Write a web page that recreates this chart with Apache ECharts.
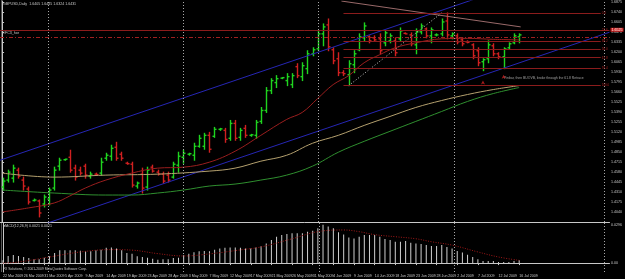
<!DOCTYPE html>
<html lang="en">
<head>
<meta charset="UTF-8" />
<title>GBPUSD,Daily</title>
<script src="https://cdn.jsdelivr.net/npm/echarts@6/dist/echarts.min.js"></script>
<style>
  * { margin: 0; padding: 0; }
  body { background: #000; }
  #main { width: 625px; height: 279px; }
</style>
</head>
<body>
<div id="main"></div>
<script>
// one bar per day, Sunday to Friday
var dates = [
  '22 Mar 2009', '23 Mar 2009', '24 Mar 2009', '25 Mar 2009', '26 Mar 2009', '27 Mar 2009',
  '29 Mar 2009', '30 Mar 2009', '31 Mar 2009', '1 Apr 2009', '2 Apr 2009', '3 Apr 2009',
  '5 Apr 2009', '6 Apr 2009', '7 Apr 2009', '8 Apr 2009', '9 Apr 2009', '10 Apr 2009',
  '12 Apr 2009', '13 Apr 2009', '14 Apr 2009', '15 Apr 2009', '16 Apr 2009', '17 Apr 2009',
  '19 Apr 2009', '20 Apr 2009', '21 Apr 2009', '22 Apr 2009', '23 Apr 2009', '24 Apr 2009',
  '26 Apr 2009', '27 Apr 2009', '28 Apr 2009', '29 Apr 2009', '30 Apr 2009', '1 May 2009',
  '3 May 2009', '4 May 2009', '5 May 2009', '6 May 2009', '7 May 2009', '8 May 2009',
  '10 May 2009', '11 May 2009', '12 May 2009', '13 May 2009', '14 May 2009', '15 May 2009',
  '17 May 2009', '18 May 2009', '19 May 2009', '20 May 2009', '21 May 2009', '22 May 2009',
  '24 May 2009', '25 May 2009', '26 May 2009', '27 May 2009', '28 May 2009', '29 May 2009',
  '31 May 2009', '1 Jun 2009', '2 Jun 2009', '3 Jun 2009', '4 Jun 2009', '5 Jun 2009',
  '7 Jun 2009', '8 Jun 2009', '9 Jun 2009', '10 Jun 2009', '11 Jun 2009', '12 Jun 2009',
  '14 Jun 2009', '15 Jun 2009', '16 Jun 2009', '17 Jun 2009', '18 Jun 2009', '19 Jun 2009',
  '21 Jun 2009', '22 Jun 2009', '23 Jun 2009', '24 Jun 2009', '25 Jun 2009', '26 Jun 2009',
  '28 Jun 2009', '29 Jun 2009', '30 Jun 2009', '1 Jul 2009', '2 Jul 2009', '3 Jul 2009',
  '5 Jul 2009', '6 Jul 2009', '7 Jul 2009', '8 Jul 2009', '9 Jul 2009', '10 Jul 2009',
  '12 Jul 2009', '13 Jul 2009', '14 Jul 2009', '15 Jul 2009', '16 Jul 2009'
];

var opens = [
  1.4377, 1.4471, 1.4497, 1.4605, 1.4471, 1.4350, 1.4195, 1.4189, 1.4148, 1.4215,
  1.4363, 1.4659, 1.4746, 1.4779, 1.4632, 1.4605, 1.4659, 1.4524, 1.4551, 1.4565,
  1.4766, 1.4793, 1.4914, 1.4820, 1.4699, 1.4685, 1.4390, 1.4551, 1.4377, 1.4645,
  1.4578, 1.4551, 1.4538, 1.4511, 1.4672, 1.4779, 1.4820, 1.4806, 1.4927, 1.4927,
  1.5075, 1.5062, 1.5156, 1.5142, 1.5035, 1.5236, 1.5048, 1.5169, 1.5075, 1.5075,
  1.5263, 1.5411, 1.5679, 1.5787, 1.5847, 1.5814, 1.5760, 1.6002, 1.5867, 1.5975,
  1.6176, 1.6243, 1.6445, 1.6566, 1.6230, 1.6109, 1.5921, 1.5894, 1.6028, 1.6230,
  1.6391, 1.6405, 1.6391, 1.6378, 1.6324, 1.6351, 1.6351, 1.6378, 1.6452, 1.6431,
  1.6297, 1.6472, 1.6512, 1.6418, 1.6431, 1.6445, 1.6619, 1.6418, 1.6418, 1.6364,
  1.6337, 1.6297, 1.6217, 1.6069, 1.6109, 1.6284, 1.6176, 1.6136, 1.6257, 1.6324,
  1.6405
];
var highs = [
  1.4497, 1.4605, 1.4672, 1.4632, 1.4511, 1.4377, 1.4215, 1.4202, 1.4269, 1.4363,
  1.4645, 1.4766, 1.4753, 1.4874, 1.4672, 1.4645, 1.4685, 1.4578, 1.4565, 1.4766,
  1.4833, 1.4941, 1.4981, 1.4847, 1.4712, 1.4712, 1.4444, 1.4632, 1.4645, 1.4672,
  1.4605, 1.4578, 1.4578, 1.4712, 1.4847, 1.4874, 1.4833, 1.4968, 1.5075, 1.5102,
  1.5115, 1.5182, 1.5169, 1.5169, 1.5276, 1.5276, 1.5169, 1.5209, 1.5088, 1.5276,
  1.5451, 1.5720, 1.5840, 1.5881, 1.5854, 1.5908, 1.5908, 1.6042, 1.6055, 1.6217,
  1.6257, 1.6485, 1.6579, 1.6646, 1.6257, 1.6190, 1.5948, 1.6082, 1.6217, 1.6445,
  1.6593, 1.6418, 1.6418, 1.6445, 1.6485, 1.6445, 1.6391, 1.6525, 1.6458, 1.6458,
  1.6512, 1.6579, 1.6525, 1.6525, 1.6445, 1.6646, 1.6727, 1.6458, 1.6445, 1.6391,
  1.6351, 1.6311, 1.6257, 1.6109, 1.6351, 1.6311, 1.6190, 1.6257, 1.6324, 1.6445,
  1.6445
];
var lows = [
  1.4336, 1.4444, 1.4444, 1.4497, 1.4336, 1.4148, 1.4189, 1.3974, 1.4108, 1.4135,
  1.4336, 1.4605, 1.4739, 1.4578, 1.4471, 1.4538, 1.4497, 1.4497, 1.4538, 1.4538,
  1.4739, 1.4739, 1.4739, 1.4739, 1.4685, 1.4377, 1.4363, 1.4296, 1.4336, 1.4578,
  1.4538, 1.4430, 1.4444, 1.4497, 1.4578, 1.4699, 1.4806, 1.4739, 1.4914, 1.4887,
  1.4847, 1.5048, 1.5142, 1.4981, 1.5008, 1.5008, 1.5008, 1.5048, 1.5062, 1.5035,
  1.5236, 1.5384, 1.5639, 1.5720, 1.5840, 1.5746, 1.5720, 1.5854, 1.5814, 1.5908,
  1.6149, 1.6217, 1.6284, 1.6217, 1.6042, 1.5881, 1.5881, 1.5746, 1.5921, 1.6217,
  1.6351, 1.6324, 1.6351, 1.6176, 1.6284, 1.6324, 1.6149, 1.6351, 1.6445, 1.6284,
  1.6176, 1.6445, 1.6391, 1.6324, 1.6418, 1.6418, 1.6378, 1.6378, 1.6311, 1.6284,
  1.6324, 1.6109, 1.6015, 1.5948, 1.6055, 1.6149, 1.6109, 1.5975, 1.6243, 1.6311,
  1.6324
];
var closes = [
  1.4457, 1.4578, 1.4632, 1.4524, 1.4390, 1.4175, 1.4202, 1.4027, 1.4242, 1.4336,
  1.4605, 1.4739, 1.4753, 1.4605, 1.4511, 1.4565, 1.4538, 1.4551, 1.4545, 1.4712,
  1.4806, 1.4900, 1.4766, 1.4766, 1.4692, 1.4403, 1.4430, 1.4363, 1.4605, 1.4592,
  1.4551, 1.4457, 1.4471, 1.4685, 1.4793, 1.4833, 1.4827, 1.4927, 1.5035, 1.5075,
  1.4887, 1.5156, 1.5162, 1.5021, 1.5236, 1.5035, 1.5142, 1.5075, 1.5082, 1.5250,
  1.5411, 1.5679, 1.5814, 1.5840, 1.5854, 1.5867, 1.5881, 1.5881, 1.6015, 1.6176,
  1.6230, 1.6445, 1.6539, 1.6270, 1.6082, 1.5921, 1.5908, 1.6042, 1.6176, 1.6405,
  1.6552, 1.6351, 1.6364, 1.6217, 1.6458, 1.6418, 1.6190, 1.6485, 1.6445, 1.6311,
  1.6472, 1.6552, 1.6418, 1.6499, 1.6431, 1.6606, 1.6431, 1.6445, 1.6337, 1.6311,
  1.6330, 1.6149, 1.6055, 1.6096, 1.6297, 1.6176, 1.6136, 1.6243, 1.6311, 1.6418,
  1.6431
];

// moving averages, read at sample bars
var maRedIdx = [0, 5, 10, 13, 16, 20, 25, 30, 35, 40, 45, 50, 55, 58, 61, 64, 67, 70, 73, 76, 80, 85, 90, 95, 100];
var maRedVals = [1.4041, 1.4095, 1.4162, 1.4256, 1.4363, 1.4471, 1.4565, 1.4632, 1.4645, 1.4712, 1.4860, 1.5075, 1.5290,
  1.5384, 1.5572, 1.5760, 1.5881, 1.6055, 1.6163, 1.6257, 1.6324, 1.6378, 1.6384, 1.6371, 1.6364];
var maTanIdx = [0, 10, 20, 30, 40, 45, 50, 55, 60, 65, 70, 75, 80, 85, 90, 95, 100];
var maTanVals = [1.4565, 1.4511, 1.4538, 1.4551, 1.4592, 1.4632, 1.4726, 1.4806, 1.4968, 1.5075, 1.5209, 1.5330,
  1.5451, 1.5545, 1.5626, 1.5693, 1.5746];
var maGreenIdx = [0, 10, 20, 25, 30, 35, 40, 45, 50, 55, 60, 65, 70, 75, 80, 85, 90, 95, 100];
var maGreenVals = [1.4336, 1.4296, 1.4269, 1.4269, 1.4296, 1.4336, 1.4390, 1.4417, 1.4471, 1.4538, 1.4659, 1.4847,
  1.4994, 1.5129, 1.5263, 1.5397, 1.5532, 1.5639, 1.5720];

// MACD(12,26,9)
var macdHist = [
  0.0021, 0.0055, 0.0063, 0.0055, 0.0047, 0.0039, 0.0029, 0.0029, 0.0042, 0.0053,
  0.0078, 0.0100, 0.0100, 0.0100, 0.0100, 0.0096, 0.0092, 0.0092, 0.0100, 0.0104,
  0.0118, 0.0120, 0.0112, 0.0100, 0.0078, 0.0073, 0.0053, 0.0047, 0.0042, 0.0034,
  0.0026, 0.0029, 0.0029, 0.0039, 0.0042, 0.0060, 0.0073, 0.0084, 0.0092, 0.0094,
  0.0092, 0.0104, 0.0112, 0.0118, 0.0120, 0.0120, 0.0118, 0.0112, 0.0112, 0.0120,
  0.0131, 0.0151, 0.0178, 0.0204, 0.0217, 0.0225, 0.0230, 0.0230, 0.0230, 0.0243,
  0.0251, 0.0269, 0.0296, 0.0282, 0.0269, 0.0238, 0.0222, 0.0198, 0.0191, 0.0204,
  0.0217, 0.0217, 0.0217, 0.0204, 0.0186, 0.0178, 0.0165, 0.0165, 0.0170, 0.0157,
  0.0151, 0.0147, 0.0139, 0.0133, 0.0133, 0.0139, 0.0125, 0.0112, 0.0094, 0.0081,
  0.0065, 0.0047, 0.0029, 0.0016, 0.0016, 0.0016, 0.0008, 0.0008, 0.0008, 0.0016,
  0.0021
];
var signalIdx = [0, 3, 9, 15, 21, 25, 30, 35, 40, 46, 50, 56, 61, 66, 69, 72, 76, 80, 83, 87, 92, 96, 100];
var signalVals = [0, 0.0008, 0.0047, 0.0086, 0.0104, 0.0100, 0.0073, 0.0055, 0.0071, 0.0102, 0.0125, 0.0188,
  0.0243, 0.0256, 0.0243, 0.0220, 0.0204, 0.0188, 0.0165, 0.0139, 0.0086, 0.0047, 0.0021];

// drawn objects: trend lines [barIndex, price]
var channelTop = [[-0.5, 1.4739], [100, 1.7118]];
var channelBottom = [[-0.5, 1.3673], [117.5, 1.6467]];
var trendTop = [[65.6, 1.6888], [100.3, 1.6539]];
var trendDotted = [[67, 1.5746], [85, 1.6727]];
var fibStart = 66, fibEnd = 115.8;
var fibPrices = [1.6727, 1.6499, 1.6351, 1.6237, 1.6123, 1.5975, 1.5746];
var fibNames = ['0.0', '23.6', '38.2', '50.0', '61.8', '76.4', '100.0'];
var levelRed = 1.6525, levelGreen = 1.6418, levelRedDash = 1.6364;
var arrowIdx = [93, 97];
var arrowPrice = [1.5814, 1.5894];
var separators = [8.8, 35, 61.2, 87.4, 116.5];

var slots = 118; // bars plus the empty shift on the right
var bull = '#1fd41f', bear = '#d02020';
var txt = '#c8c8c8';
var font = 'Liberation Sans';

var ohlc = [];
for (var i = 0; i < opens.length; i++) {
  ohlc.push([i, opens[i], highs[i], lows[i], closes[i]]);
}
function pairs(idx, vals) {
  return idx.map(function (x, k) { return [x, vals[k]]; });
}
var labelIdx = dates.map(function (d, k) { return k; }).filter(function (k) { return k % 4 === 0; });
var last = opens.length - 1;

function renderBar(params, api) {
  var i = api.value(0);
  var o = api.coord([i, api.value(1)]);
  var h = api.coord([i, api.value(2)]);
  var l = api.coord([i, api.value(3)]);
  var c = api.coord([i, api.value(4)]);
  var color = api.value(4) >= api.value(1) ? bull : bear;
  var x = Math.round(h[0]) + 0.5;
  var st = { stroke: color, lineWidth: 1.4 };
  return {
    type: 'group',
    children: [
      { type: 'line', shape: { x1: x, y1: h[1] - 0.5, x2: x, y2: l[1] + 0.5 }, style: st },
      { type: 'line', shape: { x1: x - 2, y1: o[1], x2: x, y2: o[1] }, style: st },
      { type: 'line', shape: { x1: x, y1: c[1], x2: x + 2, y2: c[1] }, style: st }
    ]
  };
}

var fibLines = fibPrices.map(function (p, k) {
  return [
    {
      coord: [fibStart, p],
      lineStyle: { color: '#8b1c1c', type: 'solid', width: 1 },
      label: { show: true, position: 'end', formatter: fibNames[k], color: '#b02020', fontSize: 3, distance: 1, fontFamily: font }
    },
    { coord: [fibEnd, p] }
  ];
});
var sepLines = separators.map(function (x) { return { xAxis: x }; });

var myChart = echarts.init(document.getElementById('main'));
var option = {
  backgroundColor: '#000000',
  animation: false,
  grid: [
    { left: 0, right: 13, top: 0, height: 222 },
    { left: 0, right: 13, top: 223, height: 49 }
  ],
  xAxis: [
    {
      type: 'value', gridIndex: 0, min: -0.5, max: slots - 0.5,
      axisLine: { show: true, lineStyle: { color: txt, width: 1 } },
      axisTick: { show: false }, axisLabel: { show: false }, splitLine: { show: false }
    },
    {
      type: 'value', gridIndex: 1, min: -0.5, max: slots - 0.5,
      axisLine: { show: true, lineStyle: { color: txt, width: 1 } },
      axisTick: { show: true, length: 2, customValues: labelIdx, lineStyle: { color: txt } },
      axisLabel: {
        customValues: labelIdx, color: txt, fontSize: 3.6, fontFamily: font, align: 'left', margin: 1.5,
        formatter: function (v) { return dates[Math.round(v)] || ''; }
      },
      splitLine: { show: false }
    }
  ],
  yAxis: [
    {
      type: 'value', gridIndex: 0, position: 'right', min: 1.3905, max: 1.6888, interval: 0.0135,
      axisLine: { show: true, lineStyle: { color: txt } },
      axisTick: { show: true, length: 1.5, lineStyle: { color: txt } },
      axisLabel: {
        color: txt, fontSize: 3.6, fontFamily: font, margin: 1.5, showMinLabel: false, showMaxLabel: false,
        formatter: function (v) { return v.toFixed(4); }
      },
      splitLine: { show: false }
    },
    {
      type: 'value', gridIndex: 1, position: 'right', min: -0.0069, max: 0.031,
      axisLine: { show: true, lineStyle: { color: txt } },
      axisTick: { show: true, length: 1.5, customValues: [0, 0.0296], lineStyle: { color: txt } },
      axisLabel: {
        customValues: [0, 0.0296], color: txt, fontSize: 3.6, fontFamily: font, margin: 1.5,
        formatter: function (v) { return v === 0 ? '0.00' : v.toFixed(4); }
      },
      splitLine: { show: false }
    }
  ],
  series: [
    {
      name: 'channel top', type: 'line', xAxisIndex: 0, yAxisIndex: 0, data: channelTop,
      symbol: 'none', lineStyle: { color: '#2626b4', width: 1 }, silent: true
    },
    {
      name: 'channel bottom', type: 'line', xAxisIndex: 0, yAxisIndex: 0, data: channelBottom,
      symbol: 'none', lineStyle: { color: '#2626b4', width: 1 }, silent: true
    },
    {
      name: 'trend top', type: 'line', xAxisIndex: 0, yAxisIndex: 0, data: trendTop,
      symbol: 'none', lineStyle: { color: '#9a6a6a', width: 1 }, silent: true
    },
    {
      name: 'trend dotted', type: 'line', xAxisIndex: 0, yAxisIndex: 0, data: trendDotted,
      symbol: 'none', lineStyle: { color: '#c8c8c8', width: 1, type: [1, 2] }, silent: true
    },
    {
      name: 'MA green', type: 'line', xAxisIndex: 0, yAxisIndex: 0, data: pairs(maGreenIdx, maGreenVals),
      symbol: 'none', smooth: 0.4, lineStyle: { color: '#2f8f2f', width: 1 }, silent: true
    },
    {
      name: 'MA tan', type: 'line', xAxisIndex: 0, yAxisIndex: 0, data: pairs(maTanIdx, maTanVals),
      symbol: 'none', smooth: 0.4, lineStyle: { color: '#b4a06e', width: 1 }, silent: true
    },
    {
      name: 'MA red', type: 'line', xAxisIndex: 0, yAxisIndex: 0, data: pairs(maRedIdx, maRedVals),
      symbol: 'none', smooth: 0.4, lineStyle: { color: '#9a1e1e', width: 1 }, silent: true,
      markLine: {
        silent: true, symbol: ['none', 'none'], animation: false,
        label: { show: false },
        data: fibLines.concat([
          {
            yAxis: levelRed, lineStyle: { color: '#8b1c1c', type: 'solid', width: 1 },
            label: { show: true, position: 'end', distance: 1, color: '#fff', backgroundColor: '#c81e1e', padding: [0, 1], fontSize: 3.6, fontFamily: font, formatter: levelRed.toFixed(4) }
          },
          { yAxis: levelGreen, lineStyle: { color: '#6fa86f', type: [4, 2, 1, 2], width: 1 } },
          { yAxis: levelRedDash, lineStyle: { color: '#a02020', type: [4, 2, 1, 2], width: 1 } },
          {
            yAxis: closes[last], lineStyle: { opacity: 0 },
            label: { show: true, position: 'end', distance: 1, color: '#000', backgroundColor: '#ffffff', padding: [0, 1], fontSize: 3.6, fontFamily: font, formatter: closes[last].toFixed(4) }
          }
        ], sepLines.map(function (s) {
          return { xAxis: s.xAxis, lineStyle: { color: '#a8a8a8', type: [1, 2], width: 1 } };
        }))
      }
    },
    {
      name: 'GBPUSD', type: 'custom', xAxisIndex: 0, yAxisIndex: 0, data: ohlc,
      renderItem: renderBar, encode: { x: 0, y: [1, 2, 3, 4] }, silent: true
    },
    {
      name: 'arrows', type: 'scatter', xAxisIndex: 0, yAxisIndex: 0, data: pairs(arrowIdx, arrowPrice),
      symbol: 'arrow', symbolSize: [3, 4], itemStyle: { color: '#d02020' }, silent: true
    },
    {
      name: 'MACD', type: 'bar', xAxisIndex: 1, yAxisIndex: 1,
      data: macdHist.map(function (v, k) { return [k, v]; }),
      barWidth: 1, itemStyle: { color: '#d0d0d0' }, silent: true,
      markLine: {
        silent: true, symbol: ['none', 'none'], label: { show: false },
        data: sepLines, lineStyle: { color: '#a8a8a8', type: [1, 2], width: 1 }
      }
    },
    {
      name: 'Signal', type: 'line', xAxisIndex: 1, yAxisIndex: 1, data: pairs(signalIdx, signalVals),
      symbol: 'none', smooth: 0.4, lineStyle: { color: '#a01818', width: 1, type: [1, 1.5] }, silent: true
    }
  ],
  graphic: [
    {
      type: 'line', silent: true, shape: { x1: 1.5, y1: 0, x2: 1.5, y2: 272 },
      style: { stroke: '#555555', lineWidth: 1 }
    },
    {
      type: 'text', left: 3, top: 2, silent: true,
      style: {
        text: 'GBPUSD,Daily  ' + [opens[last], highs[last], lows[last], closes[last]].map(function (v) { return v.toFixed(4); }).join(' '),
        fill: txt, fontSize: 3.6, fontFamily: font
      }
    },
    { type: 'text', left: 3, top: 31, silent: true, style: { text: '#FC3_hor', fill: txt, fontSize: 3.6, fontFamily: font } },
    {
      type: 'text', left: 504, top: 77, silent: true,
      style: { text: 'Pinbar, then BUOVB, broke through the 61.8 Retrace', fill: '#a0a0a0', fontSize: 3.4, fontFamily: font }
    },
    {
      type: 'text', left: 3, top: 224, silent: true,
      style: {
        text: 'MACD(12,26,9) ' + macdHist[last].toFixed(4) + ' ' + signalVals[signalVals.length - 1].toFixed(4),
        fill: txt, fontSize: 3.6, fontFamily: font
      }
    },
    {
      type: 'text', left: 3, top: 267.5, silent: true,
      style: { text: 'FX Solutions, © 2001-2009 MetaQuotes Software Corp.', fill: txt, fontSize: 3.4, fontFamily: font }
    }
  ]
};
myChart.setOption(option);
</script>
</body>
</html>
